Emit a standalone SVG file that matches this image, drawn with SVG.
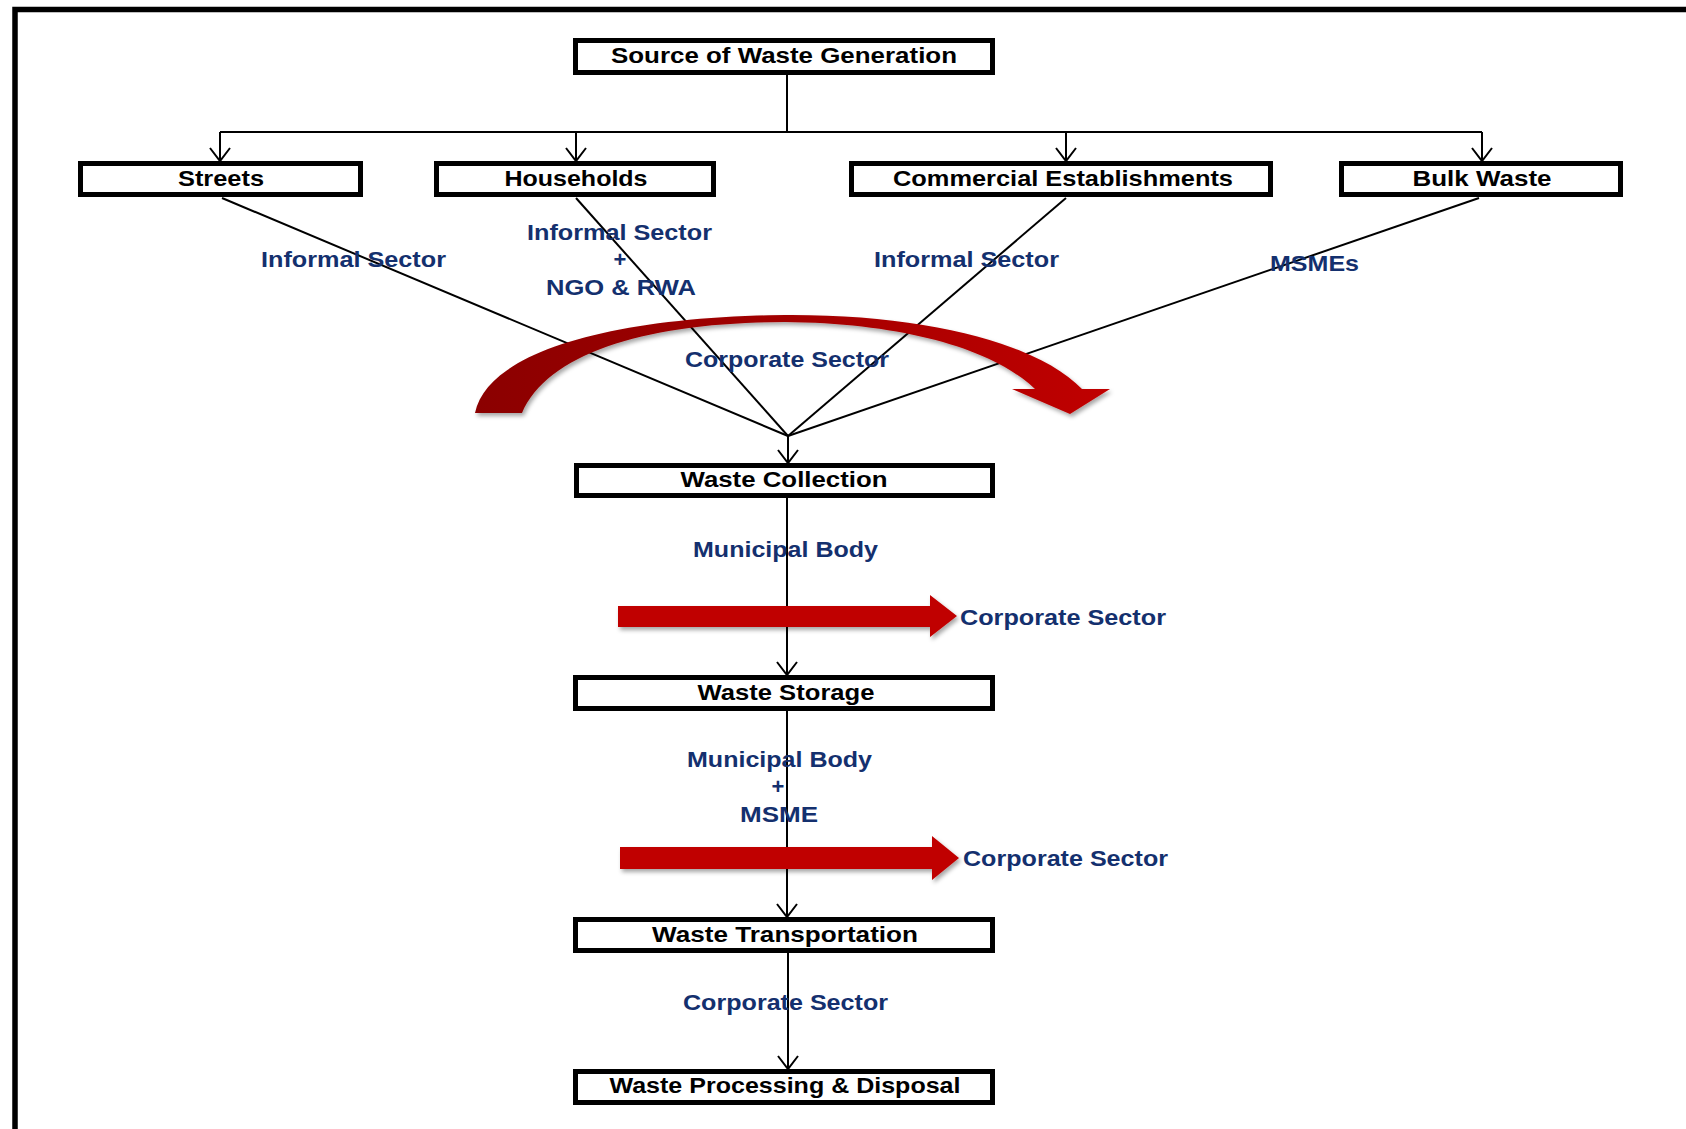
<svg xmlns="http://www.w3.org/2000/svg" width="1686" height="1129" viewBox="0 0 1686 1129">
<style>
.box{fill:#fff;stroke:#000;stroke-width:5}
.bt{font-family:"Liberation Sans",Arial,sans-serif;font-weight:bold;font-size:22px;fill:#000;text-anchor:middle}
.lb{font-family:"Liberation Sans",Arial,sans-serif;font-weight:bold;font-size:22px;fill:#14306E;text-anchor:middle}
.ln{fill:none;stroke:#000;stroke-width:2}
.red{fill:#C00000}
</style>
<defs>
<marker id="ah" viewBox="-15 -12 17 24" markerWidth="17" markerHeight="24" refX="0" refY="0" orient="auto" markerUnits="userSpaceOnUse">
<path d="M -13,-10 L 0,0 L -13,10" fill="none" stroke="#000" stroke-width="2"/>
</marker>
<linearGradient id="cg" x1="0" y1="0" x2="1" y2="0">
<stop offset="0" stop-color="#8B0000"/>
<stop offset="0.5" stop-color="#A30000"/>
<stop offset="1" stop-color="#C00000"/>
</linearGradient>
<filter id="sh" x="-10%" y="-20%" width="120%" height="150%">
<feDropShadow dx="2" dy="3" stdDeviation="2" flood-color="#000" flood-opacity="0.35"/>
</filter>
</defs>

<path d="M 15,1129 L 15,9.5 L 1686,9.5" fill="none" stroke="#000" stroke-width="5.5"/>

<g id="connectors">
<path class="ln" d="M 787,75 L 787,132"/>
<path class="ln" d="M 220,132 L 1482,132"/>
<path class="ln" d="M 220,132 L 220,161" marker-end="url(#ah)"/>
<path class="ln" d="M 576,132 L 576,161" marker-end="url(#ah)"/>
<path class="ln" d="M 1066,132 L 1066,161" marker-end="url(#ah)"/>
<path class="ln" d="M 1482,132 L 1482,161" marker-end="url(#ah)"/>
<path class="ln" d="M 222,198 L 788,436"/>
<path class="ln" d="M 576,198 L 788,436"/>
<path class="ln" d="M 1066,198 L 788,436"/>
<path class="ln" d="M 1479,198 L 788,436"/>
<path class="ln" d="M 788,436 L 788,463" marker-end="url(#ah)"/>
<path class="ln" d="M 787,498 L 787,675" marker-end="url(#ah)"/>
<path class="ln" d="M 787,711 L 787,917" marker-end="url(#ah)"/>
<path class="ln" d="M 788,953 L 788,1069" marker-end="url(#ah)"/>
</g>

<g id="red-arrows" filter="url(#sh)">
<path d="M 475,413 C 488,352 610,317 785,315 C 930,314 1040,345 1082,389 L 1110,389 L 1070,414 L 1012,389 L 1035,389 C 995,350 905,323 785,322 C 650,322 548,352 522,413 Z" fill="url(#cg)"/>
<polygon class="red" points="618,606 930,606 930,595 957,616 930,637 930,627 618,627"/>
<polygon class="red" points="620,847 932,847 932,836 959,858 932,880 932,869 620,869"/>
</g>

<g id="source">
<rect class="box" x="575.5" y="40.5" width="417" height="32"/>
<text class="bt" x="784" y="63" textLength="346" lengthAdjust="spacingAndGlyphs">Source of Waste Generation</text>
</g>
<g id="streets">
<rect class="box" x="80.5" y="163.5" width="280" height="31"/>
<text class="bt" x="221" y="186" textLength="86" lengthAdjust="spacingAndGlyphs">Streets</text>
</g>
<g id="households">
<rect class="box" x="436.5" y="163.5" width="277" height="31"/>
<text class="bt" x="576" y="186" textLength="143" lengthAdjust="spacingAndGlyphs">Households</text>
</g>
<g id="commercial">
<rect class="box" x="851.5" y="163.5" width="419" height="31"/>
<text class="bt" x="1063" y="186" textLength="340" lengthAdjust="spacingAndGlyphs">Commercial Establishments</text>
</g>
<g id="bulk">
<rect class="box" x="1341.5" y="163.5" width="279" height="31"/>
<text class="bt" x="1482" y="186" textLength="139" lengthAdjust="spacingAndGlyphs">Bulk Waste</text>
</g>
<g id="collection">
<rect class="box" x="576.5" y="465.5" width="416" height="30"/>
<text class="bt" x="784" y="487" textLength="207" lengthAdjust="spacingAndGlyphs">Waste Collection</text>
</g>
<g id="storage">
<rect class="box" x="575.5" y="677.5" width="417" height="31"/>
<text class="bt" x="786" y="700" textLength="177" lengthAdjust="spacingAndGlyphs">Waste Storage</text>
</g>
<g id="transportation">
<rect class="box" x="575.5" y="919.5" width="417" height="31"/>
<text class="bt" x="785" y="942" textLength="266" lengthAdjust="spacingAndGlyphs">Waste Transportation</text>
</g>
<g id="processing">
<rect class="box" x="575.5" y="1071.5" width="417" height="31"/>
<text class="bt" x="785" y="1093" textLength="351" lengthAdjust="spacingAndGlyphs">Waste Processing &amp; Disposal</text>
</g>

<g id="labels">
<text class="lb" x="353.5" y="267" textLength="185" lengthAdjust="spacingAndGlyphs">Informal Sector</text>
<text class="lb" x="619.5" y="240" textLength="185" lengthAdjust="spacingAndGlyphs">Informal Sector</text>
<text class="lb" x="620" y="267">+</text>
<text class="lb" x="621" y="295" textLength="150" lengthAdjust="spacingAndGlyphs">NGO &amp; RWA</text>
<text class="lb" x="966.5" y="267" textLength="185" lengthAdjust="spacingAndGlyphs">Informal Sector</text>
<text class="lb" x="1314.5" y="271" textLength="89" lengthAdjust="spacingAndGlyphs">MSMEs</text>
<text class="lb" x="787" y="367" textLength="204" lengthAdjust="spacingAndGlyphs">Corporate Sector</text>
<text class="lb" x="785.5" y="557" textLength="185" lengthAdjust="spacingAndGlyphs">Municipal Body</text>
<text class="lb" x="1063" y="625" textLength="206" lengthAdjust="spacingAndGlyphs">Corporate Sector</text>
<text class="lb" x="779.5" y="767" textLength="185" lengthAdjust="spacingAndGlyphs">Municipal Body</text>
<text class="lb" x="778" y="794">+</text>
<text class="lb" x="779" y="822" textLength="78" lengthAdjust="spacingAndGlyphs">MSME</text>
<text class="lb" x="1065.5" y="866" textLength="205" lengthAdjust="spacingAndGlyphs">Corporate Sector</text>
<text class="lb" x="785.5" y="1010" textLength="205" lengthAdjust="spacingAndGlyphs">Corporate Sector</text>
</g>
</svg>
